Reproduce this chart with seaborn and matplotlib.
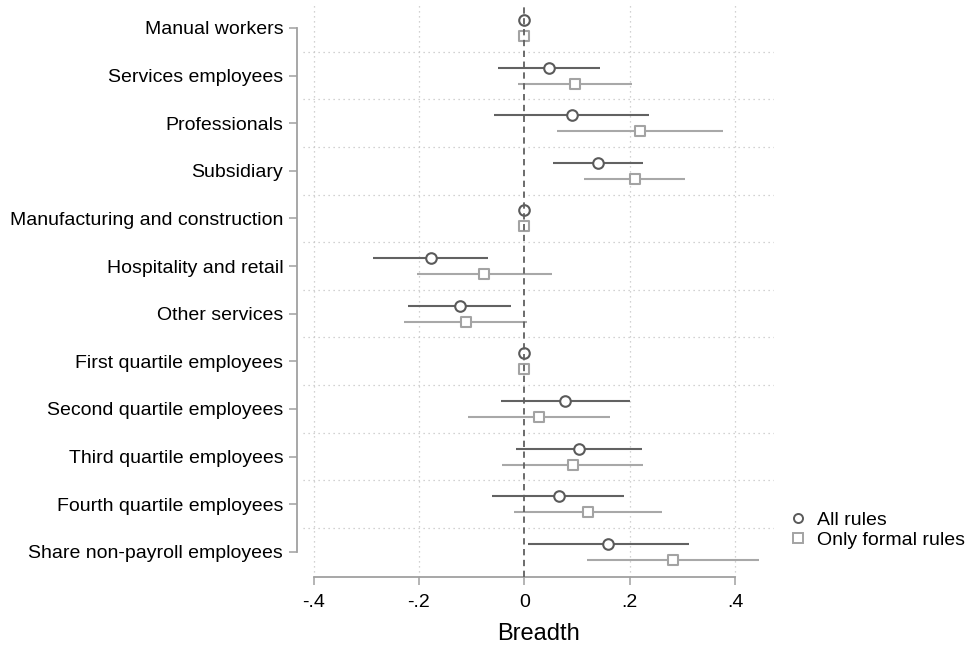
import matplotlib
matplotlib.use("Agg")
import matplotlib.pyplot as plt
from matplotlib.lines import Line2D
import numpy as np
import pandas as pd
import seaborn as sns

categories = [
    "Manual workers", "Services employees", "Professionals", "Subsidiary",
    "Manufacturing and construction", "Hospitality and retail", "Other services",
    "First quartile employees", "Second quartile employees",
    "Third quartile employees", "Fourth quartile employees",
    "Share non-payroll employees",
]
models = ["All rules", "Only formal rules"]

all_est = [0.0, 0.047, 0.090, 0.139, 0.0, -0.177, -0.122, 0.0, 0.077, 0.103, 0.065, 0.159]
all_lo = [np.nan, -0.049, -0.057, 0.055, np.nan, -0.287, -0.220, np.nan, -0.044, -0.016, -0.061, 0.007]
all_hi = [np.nan, 0.144, 0.237, 0.226, np.nan, -0.068, -0.025, np.nan, 0.200, 0.223, 0.190, 0.312]

formal_est = [0.0, 0.096, 0.220, 0.210, 0.0, -0.076, -0.111, 0.0, 0.028, 0.092, 0.121, 0.283]
formal_lo = [np.nan, -0.011, 0.063, 0.113, np.nan, -0.204, -0.229, np.nan, -0.106, -0.042, -0.020, 0.119]
formal_hi = [np.nan, 0.204, 0.378, 0.306, np.nan, 0.053, 0.006, np.nan, 0.163, 0.226, 0.261, 0.445]

xticks = [-0.4, -0.2, 0.0, 0.2, 0.4]
xticklabels = ["-.4", "-.2", "0", ".2", ".4"]

rows = []
for model, est, lo, hi in [(models[0], all_est, all_lo, all_hi),
                           (models[1], formal_est, formal_lo, formal_hi)]:
    for i, cat in enumerate(categories):
        rows.append({"category": cat, "pos": i, "model": model,
                     "estimate": est[i], "lo": lo[i], "hi": hi[i]})
df = pd.DataFrame(rows)

sns.set_theme(style="white")
plt.rcParams["font.family"] = ["Liberation Sans", "DejaVu Sans"]
plt.rcParams["text.color"] = "black"

fig = plt.figure(figsize=(9.68, 6.46), dpi=100)
ax = fig.add_axes([303 / 968, 1 - 577 / 646, (774 - 303) / 968, (577 - 5) / 646])

styles = {
    "All rules": dict(offset=-0.168, marker="o", edge="#5a5a5a", line="#626262", s=58),
    "Only formal rules": dict(offset=0.168, marker="s", edge="#a3a3a3", line="#a8a8a8", s=52),
}

# dotted grid
grid_kw = dict(color="#c4c4c4", lw=0.9, ls=(0, (1, 3)), zorder=0)
for xv in xticks:
    if xv != 0:
        ax.axvline(xv, **grid_kw)
for yv in np.arange(0.5, len(categories) - 1, 1.0):
    ax.axhline(yv, **grid_kw)

for model in models:
    st = styles[model]
    sub = df[df["model"] == model].copy()
    sub["y"] = sub["pos"] + st["offset"]
    ci = sub.dropna(subset=["lo", "hi"])
    ax.hlines(ci["y"], ci["lo"], ci["hi"], color=st["line"], lw=1.5, zorder=2)
    sns.scatterplot(data=sub, x="estimate", y="y", ax=ax, marker=st["marker"],
                    s=st["s"], facecolor="white", edgecolor=st["edge"],
                    linewidth=1.5, zorder=3, legend=False)

ax.axvline(0, color="#606060", lw=1.3, ls=(0, (3.5, 2.5)), zorder=4)

ax.set_xlim(-0.42, 0.474)
ax.set_ylim(11.53, -0.483)
ax.set_xticks(xticks)
ax.set_xticklabels(xticklabels)
ax.set_yticks(range(len(categories)))
ax.set_yticklabels(categories)
ax.set_xlabel("Breadth", fontsize=17, labelpad=9, color="black")
ax.set_ylabel("")

for side in ["top", "right"]:
    ax.spines[side].set_visible(False)
ax.spines["left"].set_position(("outward", 4.3))
ax.spines["left"].set_bounds(0, len(categories) - 1)
ax.spines["bottom"].set_bounds(-0.4, 0.4)
for side in ["left", "bottom"]:
    ax.spines[side].set_color("#a0a0a0")
    ax.spines[side].set_linewidth(1.3)

ax.tick_params(axis="both", which="major", length=6, width=1.1, color="#a0a0a0",
               labelsize=14, labelcolor="black", direction="out")
ax.tick_params(axis="x", pad=6, bottom=True)
ax.tick_params(axis="y", pad=4, left=True)

handles = [
    Line2D([], [], ls="none", marker="o", markersize=6.5, markerfacecolor="white",
           markeredgecolor=styles["All rules"]["edge"], markeredgewidth=1.4),
    Line2D([], [], ls="none", marker="s", markersize=6.5, markerfacecolor="white",
           markeredgecolor=styles["Only formal rules"]["edge"], markeredgewidth=1.4),
]
fig.legend(handles, models, loc="center left", bbox_to_anchor=(788 / 968, 1 - 530 / 646),
           frameon=False, fontsize=14, handlelength=1.0, handletextpad=0.5,
           labelspacing=0.12, borderpad=0, borderaxespad=0, labelcolor="black")

fig.savefig("out.png", dpi=100)
